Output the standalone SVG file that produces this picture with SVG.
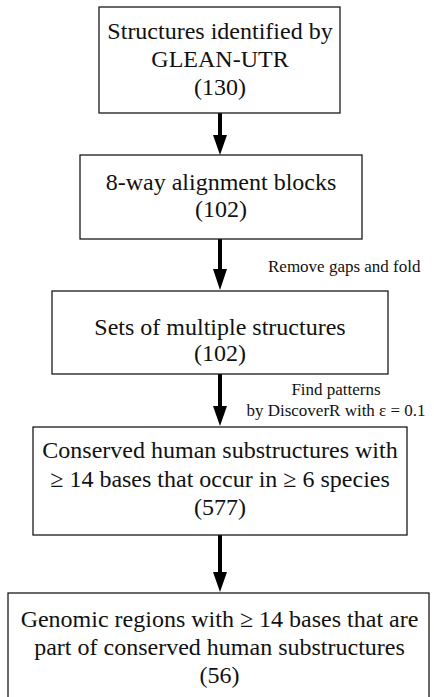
<svg xmlns="http://www.w3.org/2000/svg" width="434" height="697" viewBox="0 0 434 697">
  <style>
    .box { fill: #ffffff; stroke: #1a1a1a; stroke-width: 1.3; }
    text { font-family: 'Liberation Serif', 'Times New Roman', serif; fill: #111; }
    .label { font-size: 24px; text-anchor: middle; }
    .note { font-size: 17px; }
    .shaft { stroke: #000; stroke-width: 4; fill: none; }
    .head { fill: #000; }
  </style>
  <rect width="434" height="697" fill="#ffffff"/>

  <!-- connectors: thick shafts with solid triangular heads -->
  <g id="connectors">
    <line class="shaft" x1="220" y1="113" x2="220" y2="137"/>
    <polygon class="head" points="213,135 227,135 220,155"/>
    <line class="shaft" x1="220" y1="239" x2="220" y2="271"/>
    <polygon class="head" points="213,269 227,269 220,290"/>
    <line class="shaft" x1="220" y1="374" x2="220" y2="408"/>
    <polygon class="head" points="213,406 227,406 220,426"/>
    <line class="shaft" x1="220" y1="535" x2="220" y2="574"/>
    <polygon class="head" points="213,572 227,572 220,592"/>
    <text class="note" x="268" y="272">Remove gaps and fold</text>
    <text class="note" x="336" y="395" text-anchor="middle">Find patterns</text>
    <text class="note" x="336" y="416" text-anchor="middle">by DiscoverR with ε = 0.1</text>
  </g>

  <g id="glean">
    <rect class="box" x="99" y="7" width="241" height="106"/>
    <text class="label" x="220" y="39">Structures identified by</text>
    <text class="label" x="220" y="67">GLEAN-UTR</text>
    <text class="label" x="220" y="95">(130)</text>
  </g>

  <g id="alignment">
    <rect class="box" x="80" y="155" width="282" height="84"/>
    <text class="label" x="221" y="190">8-way alignment blocks</text>
    <text class="label" x="221" y="217">(102)</text>
  </g>

  <g id="sets">
    <rect class="box" x="52" y="291" width="336" height="83"/>
    <text class="label" x="220" y="335">Sets of multiple structures</text>
    <text class="label" x="220" y="361">(102)</text>
  </g>

  <g id="conserved">
    <rect class="box" x="33" y="427" width="374" height="108"/>
    <text class="label" x="220" y="458">Conserved human substructures with</text>
    <text class="label" x="220" y="487">≥ 14 bases that occur in ≥ 6 species</text>
    <text class="label" x="220" y="515">(577)</text>
  </g>

  <g id="genomic">
    <rect class="box" x="8" y="593" width="421" height="110"/>
    <text class="label" x="219.5" y="627" font-size="24.3">Genomic regions with ≥ 14 bases that are</text>
    <text class="label" x="219.5" y="655" font-size="24.3">part of conserved human substructures</text>
    <text class="label" x="219.5" y="683" font-size="24.3">(56)</text>
  </g>
</svg>
